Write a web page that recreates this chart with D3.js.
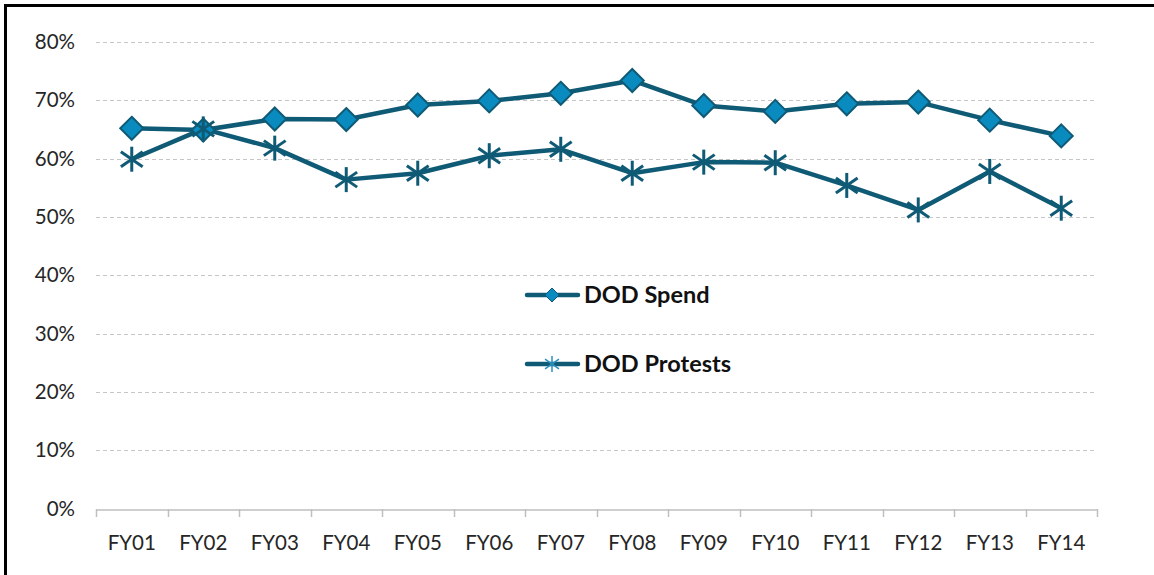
<!DOCTYPE html>
<html>
<head>
<meta charset="utf-8">
<script src="https://cdn.jsdelivr.net/npm/d3@7.9.0/dist/d3.min.js"></script>
<style>
  body { margin: 0; background: #fff; }
  svg { display: block; font-family: Lato, "Open Sans", sans-serif; }
</style>
</head>
<body>
<svg id="chart" width="1154" height="575"></svg>
<script>
const years = ['FY01', 'FY02', 'FY03', 'FY04', 'FY05', 'FY06', 'FY07',
  'FY08', 'FY09', 'FY10', 'FY11', 'FY12', 'FY13', 'FY14'];
const spend = [65.2, 64.9, 66.8, 66.7, 69.2, 69.9, 71.2, 73.4, 69.1, 68.1, 69.4, 69.7, 66.6, 63.9];
const protests = [59.9, 65.1, 61.8, 56.4, 57.5, 60.5, 61.6, 57.5, 59.4, 59.3, 55.4, 51.2, 57.8, 51.5];
const yTicks = [0, 10, 20, 30, 40, 50, 60, 70, 80];

const lineColor = '#0f5a75';
const diamondFill = '#0a8bbf';

const svg = d3.select('#chart');

// frame (only top and left edges show in the picture)
svg.append('rect')
  .attr('x', 5.5).attr('y', 5.5)
  .attr('width', 1200).attr('height', 600)
  .attr('fill', 'none').attr('stroke', '#000').attr('stroke-width', 3);

const x = d3.scaleBand().domain(years).range([96, 1097]);
const y = d3.scaleLinear().domain([0, 80]).range([508.5, 42]);

// gridlines
svg.append('g')
  .selectAll('line')
  .data(yTicks.filter(d => d > 0))
  .enter()
  .append('line')
  .attr('x1', 96).attr('x2', 1097)
  .attr('y1', d => Math.round(y(d)) + 0.5)
  .attr('y2', d => Math.round(y(d)) + 0.5)
  .attr('stroke', '#c6c6c6')
  .attr('stroke-dasharray', '4,3');

// y axis labels
const yAxis = svg.append('g')
  .attr('transform', 'translate(75,0)')
  .call(d3.axisLeft(y).tickValues(yTicks).tickSize(0).tickPadding(0).tickFormat(d => d + '%'));
yAxis.select('.domain').remove();
yAxis.selectAll('text')
  .attr('font-size', 20.5)
  .attr('fill', '#262626')
  .attr('font-family', 'Lato, sans-serif');

// x axis
const xAxis = svg.append('g')
  .attr('transform', `translate(0,${Math.round(y(0)) + 0.5})`)
  .call(d3.axisBottom(x).tickSize(0).tickPadding(26));
xAxis.select('.domain').attr('stroke', '#bfbfbf').attr('stroke-width', 1.5);
xAxis.selectAll('text')
  .attr('font-size', 20.5)
  .attr('fill', '#262626')
  .attr('font-family', 'Lato, sans-serif');

// band boundary ticks
const bounds = years.map(d => x(d)).concat([x.range()[1]]);
svg.append('g')
  .selectAll('line')
  .data(bounds)
  .enter()
  .append('line')
  .attr('x1', d => Math.round(d) + 0.5).attr('x2', d => Math.round(d) + 0.5)
  .attr('y1', Math.round(y(0))).attr('y2', Math.round(y(0)) + 8)
  .attr('stroke', '#bfbfbf').attr('stroke-width', 1.5);

const cx = d => x(d) + x.bandwidth() / 2;
const line = d3.line().x(d => cx(d.year)).y(d => y(d.value));

const spendData = years.map((yr, i) => ({ year: yr, value: spend[i] }));
const protestData = years.map((yr, i) => ({ year: yr, value: protests[i] }));

function asterisk(g, r, color, width) {
  [[0, -r, 0, r], [-r * 0.87, -r * 0.6, r * 0.87, r * 0.6], [-r * 0.87, r * 0.6, r * 0.87, -r * 0.6]]
    .forEach(c => {
      g.append('line')
        .attr('x1', c[0]).attr('y1', c[1]).attr('x2', c[2]).attr('y2', c[3])
        .attr('stroke', color).attr('stroke-width', width);
    });
}

// protests line
svg.append('path')
  .datum(protestData)
  .attr('d', line)
  .attr('fill', 'none')
  .attr('stroke', lineColor)
  .attr('stroke-width', 4.5)
  .attr('stroke-linejoin', 'round');

// spend line
svg.append('path')
  .datum(spendData)
  .attr('d', line)
  .attr('fill', 'none')
  .attr('stroke', lineColor)
  .attr('stroke-width', 4.5)
  .attr('stroke-linejoin', 'round');

// spend diamonds
svg.append('g')
  .selectAll('path')
  .data(spendData)
  .enter()
  .append('path')
  .attr('transform', d => `translate(${cx(d.year)},${y(d.value)})`)
  .attr('d', 'M0,-11.5L11.5,0L0,11.5L-11.5,0Z')
  .attr('fill', diamondFill)
  .attr('stroke', lineColor)
  .attr('stroke-width', 2);

// protest asterisks
svg.append('g')
  .selectAll('g')
  .data(protestData)
  .enter()
  .append('g')
  .attr('transform', d => `translate(${cx(d.year)},${y(d.value)})`)
  .each(function () { asterisk(d3.select(this), 12.5, lineColor, 3); });

// legend
const legend = svg.append('g');
const items = [
  { label: 'DOD Spend', y: 295, marker: 'diamond' },
  { label: 'DOD Protests', y: 364, marker: 'star' },
];
items.forEach(it => {
  legend.append('line')
    .attr('x1', 527).attr('x2', 578)
    .attr('y1', it.y).attr('y2', it.y)
    .attr('stroke', lineColor).attr('stroke-width', 4.5)
    .attr('stroke-linecap', 'round');
  const m = legend.append('g').attr('transform', `translate(552,${it.y})`);
  if (it.marker === 'diamond') {
    m.append('path').attr('d', 'M0,-7L7,0L0,7L-7,0Z')
      .attr('fill', diamondFill).attr('stroke', lineColor).attr('stroke-width', 1);
  } else {
    asterisk(m, 8, '#2b8fbf', 1.5);
  }
  legend.append('text')
    .attr('x', 584).attr('y', it.y)
    .attr('dy', '0.35em')
    .attr('font-size', 23.5)
    .attr('font-weight', 'bold')
    .attr('fill', '#111')
    .text(it.label);
});
</script>
</body>
</html>
